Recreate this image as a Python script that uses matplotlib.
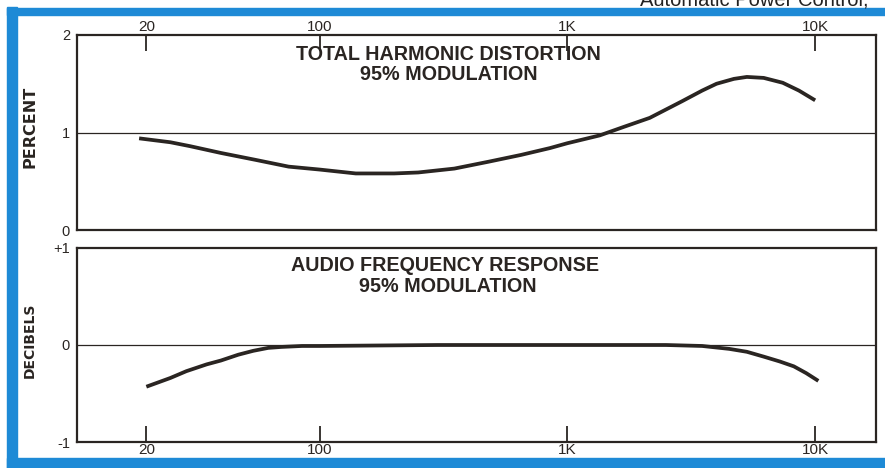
import matplotlib.pyplot as plt
from matplotlib.patches import Rectangle

plt.rcParams['font.family'] = ['Liberation Sans', 'DejaVu Sans']

# tick positions / labels shared by both panels
freq_ticks = [20, 100, 1000, 10000]
freq_labels = ['20', '100', '1K', '10K']

# total harmonic distortion (percent)
thd_freq = [18.7, 25, 30, 40, 55, 75, 100, 140, 200, 250, 350, 480, 650, 850,
            1000, 1350, 1700, 2150, 2900, 3500, 4000, 4700, 5300, 6200,
            7400, 8600, 10000]
thd_pct = [0.94, 0.90, 0.86, 0.79, 0.72, 0.65, 0.62, 0.58, 0.58, 0.59, 0.63,
           0.70, 0.77, 0.84, 0.89, 0.97, 1.06, 1.15, 1.32, 1.43, 1.50,
           1.55, 1.57, 1.56, 1.51, 1.43, 1.33]

# audio frequency response (dB)
afr_freq = [20, 25, 29, 35, 40, 47, 54, 62, 70, 85, 100, 300, 1000,
            2500, 3500, 4500, 5300, 6200, 7200, 8200, 9200, 10300]
afr_db = [-0.43, -0.34, -0.27, -0.20, -0.16, -0.10, -0.06, -0.03, -0.02,
          -0.01, -0.01, 0.0, 0.0, 0.0, -0.01, -0.04, -0.07, -0.12, -0.17,
          -0.22, -0.29, -0.37]

blue = '#1e8ad6'
ink = '#2a2522'

fig = plt.figure(figsize=(8.85, 4.68), dpi=100)
W, H = 885, 468


def px(x, y, w, h):
    # pixel box (top-left origin) -> figure fraction rect
    return [x / W, 1 - (y + h) / H, w / W, h / H]


def ftext(x, y, s, **kw):
    fig.text(x / W, 1 - y / H, s, **kw)


# blue frame (left, top, bottom)
for r in [(7, 7, 10, 461), (7, 8, 878, 7), (7, 458, 878, 10)]:
    fig.patches.append(Rectangle((r[0] / W, 1 - (r[1] + r[3]) / H), r[2] / W, r[3] / H,
                                 transform=fig.transFigure, color=blue, zorder=0))
# running head of the page, cut off by the scan just like the original
ftext(754, 5, 'Automatic Power Control,', ha='center', va='baseline',
      fontsize=14.5, color='#222222')

ax1 = fig.add_axes(px(77, 35, 799, 195))
ax2 = fig.add_axes(px(77, 248, 799, 194))

for ax in (ax1, ax2):
    ax.set_xscale('log')
    ax.set_xlim(10.5, 17600)
    ax.set_xticks(freq_ticks)
    ax.set_xticklabels(freq_labels)
    ax.xaxis.set_minor_locator(plt.NullLocator())
    for s in ax.spines.values():
        s.set_linewidth(1.6)
        s.set_color(ink)
    ax.tick_params(axis='x', direction='in', length=11.5, width=1.3, labelsize=11,
                   colors=ink, pad=1)
    ax.tick_params(axis='y', length=0, labelsize=10.5, colors=ink, pad=5)

ax1.plot(thd_freq, thd_pct, color=ink, lw=2.7, solid_capstyle='butt')
ax1.axhline(1, color=ink, lw=0.9)
ax1.set_ylim(0, 2)
ax1.set_yticks([0, 1, 2])
ax1.xaxis.tick_top()

ax2.plot(afr_freq, afr_db, color=ink, lw=2.7, solid_capstyle='butt')
ax2.axhline(0, color=ink, lw=0.9)
ax2.set_ylim(-1, 1)
ax2.set_yticks([-1, 0, 1])
ax2.set_yticklabels(['-1', '0', '+1'])

# axis titles (rotated)
ftext(29.5, 127, 'PERCENT', rotation=90, ha='center', va='center', fontsize=11.5,
      fontweight='bold', family='DejaVu Sans', color=ink)
ftext(29.5, 340, 'DECIBELS', rotation=90, ha='center', va='center', fontsize=10,
      fontweight='bold', family='DejaVu Sans', color=ink)

# panel headings
tkw = dict(ha='center', va='baseline', fontsize=14.2, fontweight='bold', color=ink)
ftext(448.5, 60, 'TOTAL HARMONIC DISTORTION', **tkw)
ftext(448.5, 80, '95% MODULATION', **tkw)
ftext(445, 271, 'AUDIO FREQUENCY RESPONSE', **tkw)
ftext(448, 292, '95% MODULATION', **tkw)

fig.savefig('out.png', dpi=100)
